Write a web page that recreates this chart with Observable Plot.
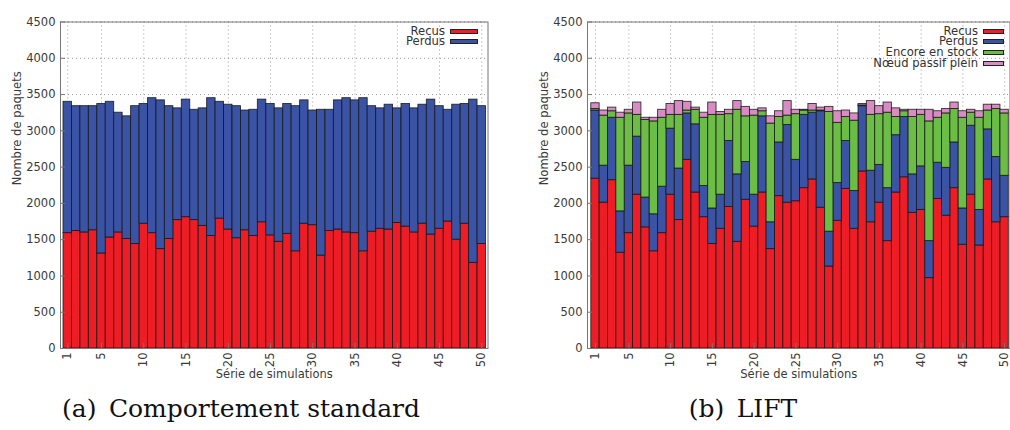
<!DOCTYPE html>
<html><head><meta charset="utf-8">
<script src="https://cdn.jsdelivr.net/npm/d3@7"></script>
<script src="https://cdn.jsdelivr.net/npm/@observablehq/plot@0.6"></script>
<style>
body{margin:0;width:1010px;height:430px;overflow:hidden;background:#fff;position:relative;font-family:"DejaVu Sans",sans-serif;}
.panel{position:absolute;top:0;width:500px;height:390px;}
.panel svg{max-width:none !important;width:500px;height:390px;}
.legend{position:absolute;font-size:11.6px;color:#333;}
.legend .row{display:flex;justify-content:flex-end;align-items:center;height:10.7px;line-height:10.7px;}
.sw{height:3px;border:1px solid #222;margin-left:5px;}
.cap{position:absolute;top:393px;line-height:32px;font-family:"DejaVu Serif",serif;font-size:25px;color:#111;white-space:nowrap;transform:translateX(-50%);}
</style></head><body>
<div id="left" class="panel" style="left:0"></div>
<div id="right" class="panel" style="left:527px"></div>
<div id="legA" class="legend" style="right:532px;top:25.8px"></div>
<div id="legB" class="legend" style="right:6px;top:25.8px"></div>
<div class="cap" id="capA" style="left:241px"></div>
<div class="cap" id="capB" style="left:743px"></div>
<script>
const simulations = [1,2,3,4,5,6,7,8,9,10,11,12,13,14,15,16,17,18,19,20,21,22,23,24,25,26,27,28,29,30,31,32,33,34,35,36,37,38,39,40,41,42,43,44,45,46,47,48,49,50];
const xTicks = [1,5,10,15,20,25,30,35,40,45,50];
const yTicks = [0,500,1000,1500,2000,2500,3000,3500,4000,4500];
const yLabel = "Nombre de paquets";
const xLabel = "Série de simulations";
const captionA = "(a)\u2002Comportement standard";
const captionB = "(b)\u2002LIFT";
const seriesNames = ["Recus", "Perdus", "Encore en stock", "Nœud passif plein"];
const seriesColors = ["#ee1c25", "#3a53a4", "#6bbd45", "#d98cc4"];

// (a) Comportement standard
const recusA = [1590,1620,1600,1630,1310,1530,1600,1510,1440,1720,1590,1370,1510,1770,1810,1770,1690,1550,1790,1640,1520,1630,1550,1740,1560,1470,1580,1340,1720,1700,1280,1620,1640,1600,1590,1340,1610,1650,1640,1730,1680,1600,1720,1570,1650,1750,1500,1720,1180,1440];
const perdusA = [1810,1720,1740,1710,2060,1870,1650,1690,1900,1650,1860,2050,1830,1540,1620,1520,1620,1900,1610,1720,1820,1650,1740,1690,1810,1840,1790,2000,1700,1580,2010,1670,1780,1850,1830,2110,1730,1660,1720,1580,1690,1710,1640,1860,1690,1540,1860,1650,2250,1900];

// (b) LIFT
const recusB = [2340,2010,2320,1320,1590,2120,1670,1340,1590,2120,1770,2600,2150,1810,1440,1650,1950,1470,2050,1680,2150,1370,2100,2010,2030,2210,2330,1940,1130,1760,2200,1650,2440,1740,2010,1480,2150,2360,1870,1910,970,2060,1830,2210,1430,2120,1420,2330,1740,1810];
const perdusB = [940,510,860,570,930,800,410,510,640,910,710,640,940,430,490,470,910,930,520,440,1050,370,740,1070,570,1010,920,1330,480,520,660,520,900,710,520,730,790,830,530,600,510,500,660,630,500,950,490,690,900,570];
const stockB = [20,690,90,1290,720,300,1070,1280,950,190,740,40,200,940,1290,1100,370,890,630,1090,70,1360,350,130,630,60,30,10,1650,830,330,970,10,770,700,1040,250,80,790,710,1650,620,750,460,1250,180,1270,260,660,860];
const passifB = [80,70,50,70,50,170,30,50,110,150,190,120,30,70,170,40,60,120,130,80,40,100,80,200,60,10,90,40,70,160,90,100,20,190,110,140,120,20,100,70,160,90,60,90,90,40,90,80,60,50];

function tidy(arrays) {
  const rows = [];
  arrays.forEach((arr, s) => arr.forEach((v, i) => rows.push({sim: simulations[i], serie: seriesNames[s], value: v})));
  return rows;
}

function panel(rows, marginRight, insetLeft, insetRight) {
  const ink = "#3a3a3a";
  return Plot.plot({
    width: 500, height: 390,
    marginLeft: 60, marginRight, marginTop: 21.5, marginBottom: 42,
    style: {fontFamily: "DejaVu Sans, sans-serif", fontSize: "11.5px", color: ink, background: "white"},
    x: {type: "band", domain: simulations, padding: 0, round: false, insetLeft, insetRight, label: null},
    y: {domain: [0, 4500], label: null},
    color: {domain: seriesNames, range: seriesColors},
    marks: [
      Plot.gridY(yTicks, {stroke: "#9a9a9a", strokeOpacity: 1, strokeDasharray: "1,3"}),
      Plot.gridX(xTicks, {stroke: "#9a9a9a", strokeOpacity: 1, strokeDasharray: "1,3"}),
      Plot.barY(rows, {x: "sim", y: "value", fill: "serie", stroke: "#151515", strokeWidth: 0.9, strokeOpacity: 0.85}),
      Plot.frame({stroke: "#777", strokeWidth: 1}),
      Plot.axisY(yTicks, {tickSize: -5, tickPadding: 10, tickFormat: d => String(d), stroke: "#777", fill: ink}),
      Plot.axisX(xTicks, {tickSize: -5, tickPadding: 9, tickRotate: -90, tickFormat: d => String(d), stroke: "#777", fill: ink}),
      Plot.text([yLabel], {frameAnchor: "left", dx: -43, rotate: -90, text: d => d, fill: ink, fontSize: 11.5}),
      Plot.text([xLabel], {frameAnchor: "bottom", dy: 29, text: d => d, fill: ink, fontSize: 11.5})
    ]
  });
}

document.getElementById("left").append(panel(tidy([recusA, perdusA]), 12.5, 3, 2));
document.getElementById("right").append(panel(tidy([recusB, perdusB, stockB, passifB]), 17.5, 3.8, 1.2));

function legend(el, n, swWidth) {
  for (let i = 0; i < n; i++) {
    const row = document.createElement("div");
    row.className = "row";
    const t = document.createElement("span");
    t.textContent = seriesNames[i];
    const sw = document.createElement("span");
    sw.className = "sw";
    sw.style.width = swWidth + "px";
    sw.style.background = seriesColors[i];
    row.append(t, sw);
    el.append(row);
  }
}
legend(document.getElementById("legA"), 2, 26);
legend(document.getElementById("legB"), 4, 19);
document.getElementById("capA").textContent = captionA;
document.getElementById("capB").textContent = captionB;
</script>
</body></html>
